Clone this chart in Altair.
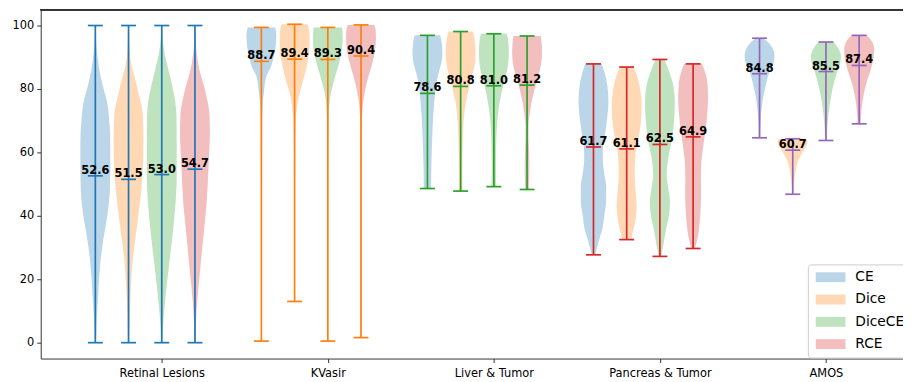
import altair as alt
import pandas as pd

# ---------------- data ----------------
GROUPS = ["Retinal Lesions", "KVasir", "Liver & Tumor", "Pancreas & Tumor", "AMOS"]
LOSSES = ["CE", "Dice", "DiceCE", "RCE"]
LOSS_COLORS = ["#1f77b4", "#ff7f0e", "#2ca02c", "#d62728"]
GROUP_LINE_COLORS = ["#1f77b4", "#ff7f0e", "#2ca02c", "#d62728", "#9467bd"]

MEDIANS = {
    "Retinal Lesions": [52.6, 51.5, 53.0, 54.7],
    "KVasir": [88.7, 89.4, 89.3, 90.4],
    "Liver & Tumor": [78.6, 80.8, 81.0, 81.2],
    "Pancreas & Tumor": [61.7, 61.1, 62.5, 64.9],
    "AMOS": [84.8, 60.7, 85.5, 87.4],
}
MINS = {
    "Retinal Lesions": [0.0, 0.0, 0.0, 0.0],
    "KVasir": [0.5, 13.0, 0.5, 1.6],
    "Liver & Tumor": [48.6, 47.8, 49.2, 48.3],
    "Pancreas & Tumor": [27.7, 32.5, 27.2, 29.7],
    "AMOS": [64.6, 46.8, 63.75, 69.0],
}
MAXS = {
    "Retinal Lesions": [100.0, 100.0, 100.0, 100.0],
    "KVasir": [99.4, 100.4, 99.4, 100.2],
    "Liver & Tumor": [96.9, 98.1, 97.4, 96.7],
    "Pancreas & Tumor": [87.9, 86.9, 89.3, 87.9],
    "AMOS": [96.0, 64.3, 94.8, 96.9],
}

# violin outlines: (value, relative half-width)
PROFILES = {
    "Retinal Lesions": {
        "CE": [(0, 0.04), (8, 0.1), (16, 0.2), (25, 0.33), (33, 0.55), (41, 0.83), (48, 0.97), (56, 1.0),
               (64, 1.0), (70, 0.93), (76, 0.78), (81, 0.5), (86, 0.27), (92, 0.1), (96, 0.04), (100, 0.02)],
        "Dice": [(0, 0.04), (8, 0.08), (17, 0.15), (27, 0.3), (38, 0.6), (48, 0.85), (56, 0.97), (64, 1.0),
                 (72, 0.95), (78, 0.7), (83, 0.45), (87, 0.22), (92, 0.08), (100, 0.02)],
        "DiceCE": [(0, 0.04), (5, 0.08), (13, 0.22), (23, 0.45), (33, 0.7), (44, 0.92), (52, 1.0), (62, 1.0),
                   (72, 0.98), (76, 0.9), (81, 0.7), (86, 0.45), (91, 0.2), (96, 0.06), (100, 0.02)],
        "RCE": [(0, 0.03), (5, 0.06), (13, 0.15), (23, 0.35), (33, 0.55), (44, 0.78), (57, 0.92), (66, 1.0),
                (72, 0.97), (77, 0.8), (81, 0.6), (86, 0.3), (91, 0.12), (96, 0.04), (100, 0.02)],
    },
    "KVasir": {
        "CE": [(0.5, 0.02), (30, 0.02), (55, 0.03), (68, 0.05), (74, 0.07), (79, 0.17), (84, 0.33),
               (86.6, 0.6), (90, 0.82), (94, 0.97), (97, 1.0), (99.4, 0.92)],
        "Dice": [(13, 0.03), (40, 0.03), (60, 0.04), (68, 0.06), (74, 0.15), (79, 0.35), (84, 0.65),
                 (88, 0.85), (92, 0.97), (96, 1.0), (99, 0.95), (100.4, 0.85)],
        "DiceCE": [(0.5, 0.02), (30, 0.02), (55, 0.03), (68, 0.05), (74, 0.08), (79, 0.22), (84, 0.5),
                   (88, 0.75), (92, 0.93), (96, 1.0), (99.4, 0.95)],
        "RCE": [(1.6, 0.02), (30, 0.02), (55, 0.03), (68, 0.05), (74, 0.1), (79, 0.25), (84, 0.5),
                (88, 0.75), (92, 0.93), (96, 1.0), (99, 0.97), (100.2, 0.88)],
    },
    "Liver & Tumor": {
        "CE": [(48.6, 0.24), (55, 0.26), (60.6, 0.29), (66, 0.33), (71, 0.38), (76, 0.46), (81, 0.57),
               (85, 0.75), (88, 0.92), (91, 1.0), (94, 0.97), (96.9, 0.85)],
        "Dice": [(47.8, 0.12), (55, 0.12), (60.6, 0.13), (66, 0.16), (71, 0.22), (76, 0.35), (81, 0.6),
                 (85, 0.82), (89, 0.98), (92, 1.0), (95, 0.95), (98.1, 0.83)],
        "DiceCE": [(49.2, 0.15), (55, 0.14), (60.6, 0.15), (66, 0.18), (71, 0.25), (76, 0.4), (81, 0.62),
                   (85, 0.85), (89, 0.98), (92, 1.0), (95, 0.96), (97.4, 0.87)],
        "RCE": [(48.3, 0.13), (55, 0.15), (60, 0.14), (64, 0.11), (68, 0.1), (73, 0.2), (77, 0.35),
                (81, 0.56), (85, 0.8), (89, 0.97), (92, 1.0), (96.7, 0.92)],
    },
    "Pancreas & Tumor": {
        "CE": [(27.7, 0.12), (32, 0.35), (36, 0.6), (40, 0.72), (45, 0.85), (49, 0.85), (54, 0.7),
               (58, 0.62), (62, 0.65), (66, 0.78), (71, 0.92), (76, 1.0), (81, 0.93), (85, 0.75), (87.9, 0.55)],
        "Dice": [(32.5, 0.3), (35.6, 0.45), (39, 0.6), (43, 0.67), (48, 0.6), (53, 0.53), (59, 0.58),
                 (63, 0.72), (67, 0.88), (71, 0.97), (75, 1.0), (80, 0.9), (84, 0.7), (86.9, 0.45)],
        "DiceCE": [(27.2, 0.08), (30, 0.2), (35.6, 0.4), (40, 0.6), (44.5, 0.67), (49, 0.55), (53, 0.45),
                   (58, 0.55), (63.5, 0.78), (69, 0.93), (76, 1.0), (81, 0.9), (85, 0.65), (89.3, 0.3)],
        "RCE": [(29.7, 0.12), (33, 0.3), (37, 0.42), (42, 0.5), (47, 0.53), (52, 0.52), (57, 0.55),
                (62, 0.68), (66, 0.8), (71, 0.92), (77, 1.0), (82, 0.95), (85, 0.82), (87.9, 0.6)],
    },
    "AMOS": {
        "CE": [(64.6, 0.05), (69.8, 0.08), (75, 0.17), (80.2, 0.37), (85.4, 0.67), (88, 0.92), (90.5, 1.0),
               (93, 0.85), (95, 0.5), (96.0, 0.25)],
        "Dice": [(46.8, 0.05), (49, 0.07), (51.7, 0.12), (54, 0.18), (56, 0.27), (58, 0.42), (60, 0.65),
                 (62, 0.9), (63.3, 1.0), (64.3, 0.85)],
        "DiceCE": [(63.75, 0.06), (69.8, 0.12), (75, 0.25), (80.2, 0.45), (85.4, 0.75), (88, 0.95),
                   (90.5, 1.0), (93, 0.8), (94.8, 0.5)],
        "RCE": [(69.0, 0.1), (71, 0.12), (76, 0.22), (81.3, 0.45), (86.5, 0.8), (90, 0.97), (92.5, 1.0),
                (95, 0.85), (96.9, 0.5)],
    },
}

SLOTS_PER_GROUP = 5
HALF_WIDTH = 0.45   # violin half width (widths=0.9)
CAP_HALF = 0.225    # cap half length

# ---------------- tables ----------------
shape_rows, stat_rows = [], []
for gi, g in enumerate(GROUPS):
    for li, loss in enumerate(LOSSES):
        pos = gi * SLOTS_PER_GROUP + li
        vid = f"{g}|{loss}"
        for v, w in PROFILES[g][loss]:
            shape_rows.append({"vid": vid, "group": g, "loss": loss, "pos": pos, "v": v, "w": w})
        stat_rows.append({
            "vid": vid, "group": g, "loss": loss, "pos": pos,
            "vmin": MINS[g][li], "vmax": MAXS[g][li], "median": MEDIANS[g][li],
            "linecolor": GROUP_LINE_COLORS[gi],
        })
shapes = pd.DataFrame(shape_rows)
stats = pd.DataFrame(stat_rows)

FONT = "DejaVu Sans"
tick_values = [gi * SLOTS_PER_GROUP + 2 for gi in range(len(GROUPS))]
label_expr = "[" + ",".join("'" + g + "'" for g in GROUPS) + "][round((datum.value - 2) / %d)]" % SLOTS_PER_GROUP

xscale = alt.Scale(domain=[-1.645, 24.32], nice=False, zero=False)
yscale = alt.Scale(domain=[-5, 105], nice=False, zero=False)
xaxis = alt.Axis(values=tick_values, labelExpr=label_expr, title=None, grid=False, labelPadding=5)
yaxis = alt.Axis(values=[0, 20, 40, 60, 80, 100], title=None, grid=False)

violins = alt.Chart(shapes).transform_calculate(
    x_lo=f"datum.pos - datum.w * {HALF_WIDTH}",
    x_hi=f"datum.pos + datum.w * {HALF_WIDTH}",
).mark_area(orient="horizontal", interpolate="monotone", fillOpacity=0.3, strokeWidth=0).encode(
    y=alt.Y("v:Q", scale=yscale, axis=yaxis),
    x=alt.X("x_lo:Q", scale=xscale, axis=xaxis, stack=None),
    x2="x_hi:Q",
    detail="vid:N",
    color=alt.Color(
        "loss:N",
        scale=alt.Scale(domain=LOSSES, range=LOSS_COLORS),
        legend=alt.Legend(
            title=None, orient="none", legendX=774, legendY=257,
            symbolType="M-1,-1H5V1H-1Z", symbolSize=100, symbolOpacity=0.3,
            symbolStrokeWidth=0, labelOffset=28, labelFontSize=13.9, labelFont=FONT,
            labelColor="#000000", rowPadding=7.5, padding=6,
            strokeColor="#cccccc", fillColor="white", cornerRadius=3,
        ),
    ),
)

stems = alt.Chart(stats).mark_rule(strokeWidth=1.7).encode(
    x=alt.X("pos:Q", scale=xscale, axis=xaxis),
    y=alt.Y("vmin:Q", scale=yscale, axis=yaxis),
    y2="vmax:Q",
    stroke=alt.Stroke("linecolor:N", scale=None),
)

caps = alt.Chart(stats).transform_fold(
    ["vmin", "vmax", "median"], as_=["kind", "val"]
).transform_calculate(
    c_lo=f"datum.pos - {CAP_HALF}",
    c_hi=f"datum.pos + {CAP_HALF}",
).mark_rule(strokeWidth=1.7).encode(
    x=alt.X("c_lo:Q", scale=xscale, axis=xaxis),
    x2="c_hi:Q",
    y=alt.Y("val:Q", scale=yscale, axis=yaxis),
    stroke=alt.Stroke("linecolor:N", scale=None),
)

labels = alt.Chart(stats).mark_text(
    baseline="bottom", align="center", fontWeight="bold", fontSize=11.5, font=FONT, color="black"
).encode(
    x=alt.X("pos:Q", scale=xscale, axis=xaxis),
    y=alt.Y("median:Q", scale=yscale, axis=yaxis),
    text=alt.Text("median:Q", format=".1f"),
)

top_spine = alt.Chart(stats).mark_rule(color="#333333", strokeWidth=1).encode(
    y=alt.datum(105, scale=yscale),
)

chart = alt.layer(violins, stems, caps, labels, top_spine).resolve_scale(
    color="independent"
).properties(
    width=870, height=352,
    autosize=alt.AutoSizeParams(type="none"),
    padding={"left": 33, "top": 0, "right": 0, "bottom": 22},
).configure_view(stroke=None).configure_axis(
    domainColor="#333333", tickColor="#333333", tickSize=4, labelPadding=3,
    labelFont=FONT, labelFontSize=11.5, labelColor="#000000", domainWidth=1, tickWidth=1,
)

chart.save("out.html", embed_options={"renderer": "svg", "actions": False})
